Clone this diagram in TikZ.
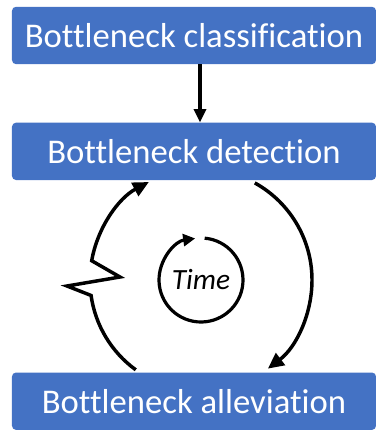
\documentclass[tikz,border=0pt]{standalone}
\usepackage{fontspec}
\setmainfont{Carlito}[Ligatures={NoCommon}]
\usetikzlibrary{positioning,arrows.meta}
\definecolor{boxblue}{HTML}{4472C4}
\begin{document}
\begin{tikzpicture}[
  box/.style={fill=boxblue, rounded corners=3pt, text=white, align=center, minimum width=273pt, minimum height=43pt, font=\fontsize{26}{30}\selectfont},
  link/.style={line width=2.6pt, -{Triangle[length=10pt, width=9pt]}},
  cyc/.style={line width=2.6pt, -{Triangle[length=12pt, width=11pt]}},
  node distance=43.5pt
]
\useasboundingbox (0,0) rectangle (289.5pt,-322.5pt);
\node[box] (classif) at (145.5pt,-26.6pt) {Bottleneck classification};
\node[box, below=of classif] (detect) {Bottleneck detection};
\node[box, below=144pt of detect] (alleviate) {Bottleneck alleviation};
\draw[link] ([xshift=4.5pt]classif.south) -- ([xshift=4.5pt]detect.north);
\coordinate (hub) at (150.75pt,-210pt);
\node[circle, minimum size=63pt, inner sep=0pt, font=\fontsize{22}{24}\selectfont\itshape] (time) at (hub) {Time};
\draw[cyc] ([shift={(61:83.25pt)}]hub) arc[start angle=61, end angle=-53, radius=83.25pt];
\draw[cyc, line join=miter] ([shift={(234:83.25pt)}]hub) arc[start angle=234, end angle=188, radius=83.25pt]
  -- ([shift={(-100.5pt,-4.5pt)}]hub) -- ([shift={(-60.75pt,2.25pt)}]hub)
  -- ([shift={(170:83.25pt)}]hub) arc[start angle=170, end angle=118, radius=83.25pt];
\draw[line width=2.4pt, -{Triangle[length=9pt, width=9pt]}] ([shift={(85:31.5pt)}]hub) arc[start angle=85, end angle=-262, radius=31.5pt];
\end{tikzpicture}
\end{document}
